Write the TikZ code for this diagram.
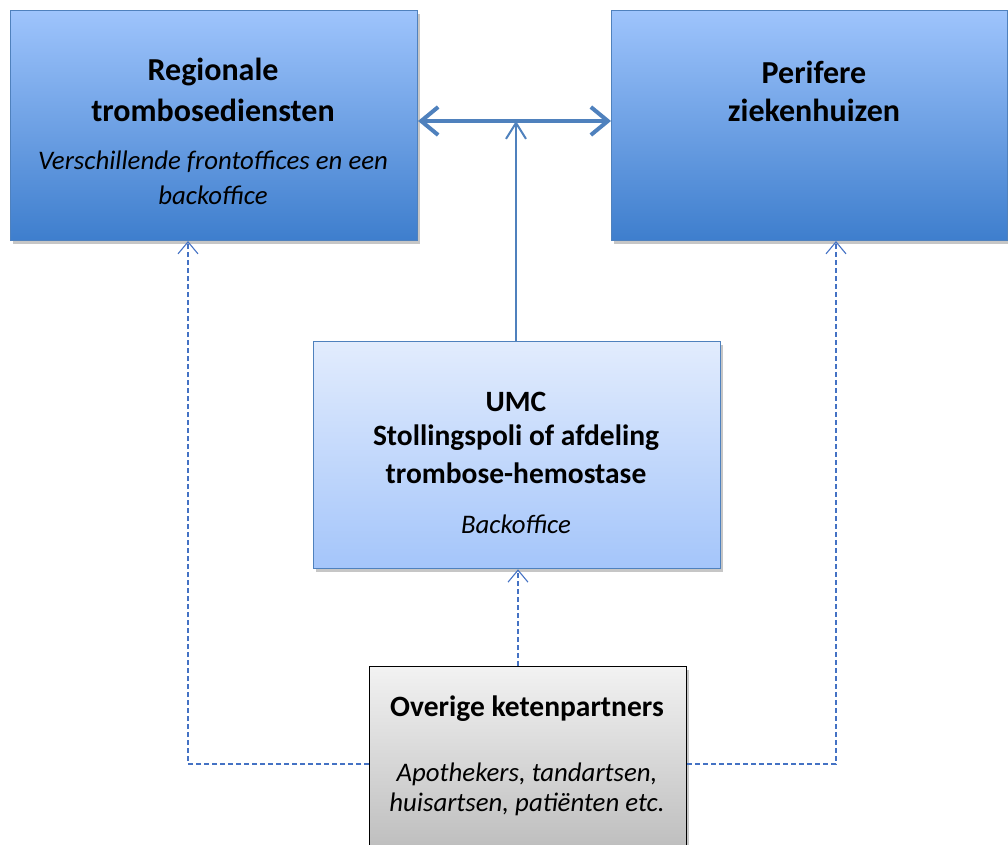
\documentclass[tikz,border=0pt]{standalone}
\usepackage{fontspec}
\setmainfont{Carlito}
\usetikzlibrary{arrows.meta,shadows,positioning}
\definecolor{bordblue}{RGB}{79,129,189}
\definecolor{lineblue}{RGB}{79,129,189}
\definecolor{dashblue}{RGB}{68,114,196}
\definecolor{topA}{RGB}{158,196,252}
\definecolor{botA}{RGB}{62,126,205}
\definecolor{topB}{RGB}{226,236,253}
\definecolor{botB}{RGB}{164,197,250}
\definecolor{topC}{RGB}{242,242,242}
\definecolor{botC}{RGB}{185,185,185}
\tikzset{
  box/.style={draw, rectangle, inner sep=0pt, anchor=north west,
    drop shadow={opacity=0.45, shadow xshift=2pt, shadow yshift=-3pt}},
  darkbox/.style={box, draw=bordblue, line width=1pt, top color=topA, bottom color=botA},
  lightbox/.style={box, draw=bordblue, line width=1.3pt, top color=topB, bottom color=botB},
  greybox/.style={box, draw=black, line width=1.3pt, top color=topC, bottom color=botC},
  bold/.style={font=\fontsize{32}{38}\selectfont\bfseries, align=center, inner sep=0pt},
  boldsm/.style={font=\fontsize{29.5}{36}\selectfont\bfseries, align=center, inner sep=0pt},
  ital/.style={font=\fontsize{26.8}{33}\selectfont\itshape, align=center, inner sep=0pt},
  dashconn/.style={draw=dashblue, line width=1.1pt, dash pattern=on 5pt off 3pt,
    -{Straight Barb[length=12pt,width=20pt,line width=1.1pt]}},
}
\begin{document}
\begin{tikzpicture}[x=1pt,y=-1pt]
\useasboundingbox (0,0) rectangle (1008,844);
% boxes
\node[darkbox, minimum width=407pt, minimum height=230pt] (reg) at (10,10) {};
\node[darkbox, minimum width=396pt, minimum height=230pt] (per) at (611,10) {};
\node[lightbox, minimum width=407pt, minimum height=227pt] (umc) at (313,341) {};
\node[greybox, minimum width=317pt, minimum height=200pt] (ove) at (369,666) {};
% texts
\node[bold] (t1) at (213,72) {Regionale};
\node[bold] (t2) at (213,110) {trombosediensten};
\node[ital] (t3) at (213,162) {Verschillende frontoffices en een};
\node[ital] (t4) at (213,195) {backoffice};
\node[bold] (t5) at (814,72) {Perifere};
\node[bold] (t6) at (814,110) {ziekenhuizen};
\node[boldsm] (t7) at (516,402) {UMC};
\node[boldsm] (t8) at (516,438) {Stollingspoli of afdeling};
\node[boldsm] (t9) at (516,473) {trombose-hemostase};
\node[ital] (t10) at (516,524) {Backoffice};
\node[boldsm] (t11) at (527,709) {Overige ketenpartners};
\node[ital] (t12) at (527,774) {Apothekers, tandartsen,};
\node[ital] (t13) at (527,804) {huisartsen, patiënten etc.};
% connectors
\coordinate (mid) at (516,121);
\draw[draw=lineblue, line width=4pt,
  {Straight Barb[length=17pt,width=28pt,line width=4pt]}-{Straight Barb[length=17pt,width=28pt,line width=4pt]}]
  (reg.east |- mid) -- (per.west |- mid);
\draw[draw=lineblue, line width=2pt, -{Straight Barb[length=16pt,width=20pt,line width=2pt]}]
  (umc.north -| mid) -- (mid);
\coordinate (lc) at (188,764);
\coordinate (rc) at (836,764);
\draw[dashconn] (ove.west |- lc) -- (lc) -- (reg.south -| lc);
\draw[dashconn] (ove.east |- rc) -- (rc) -- (per.south -| rc);
\draw[dashconn] (ove.north -| 518,0) -- (umc.south -| 518,0);
\end{tikzpicture}
\end{document}
